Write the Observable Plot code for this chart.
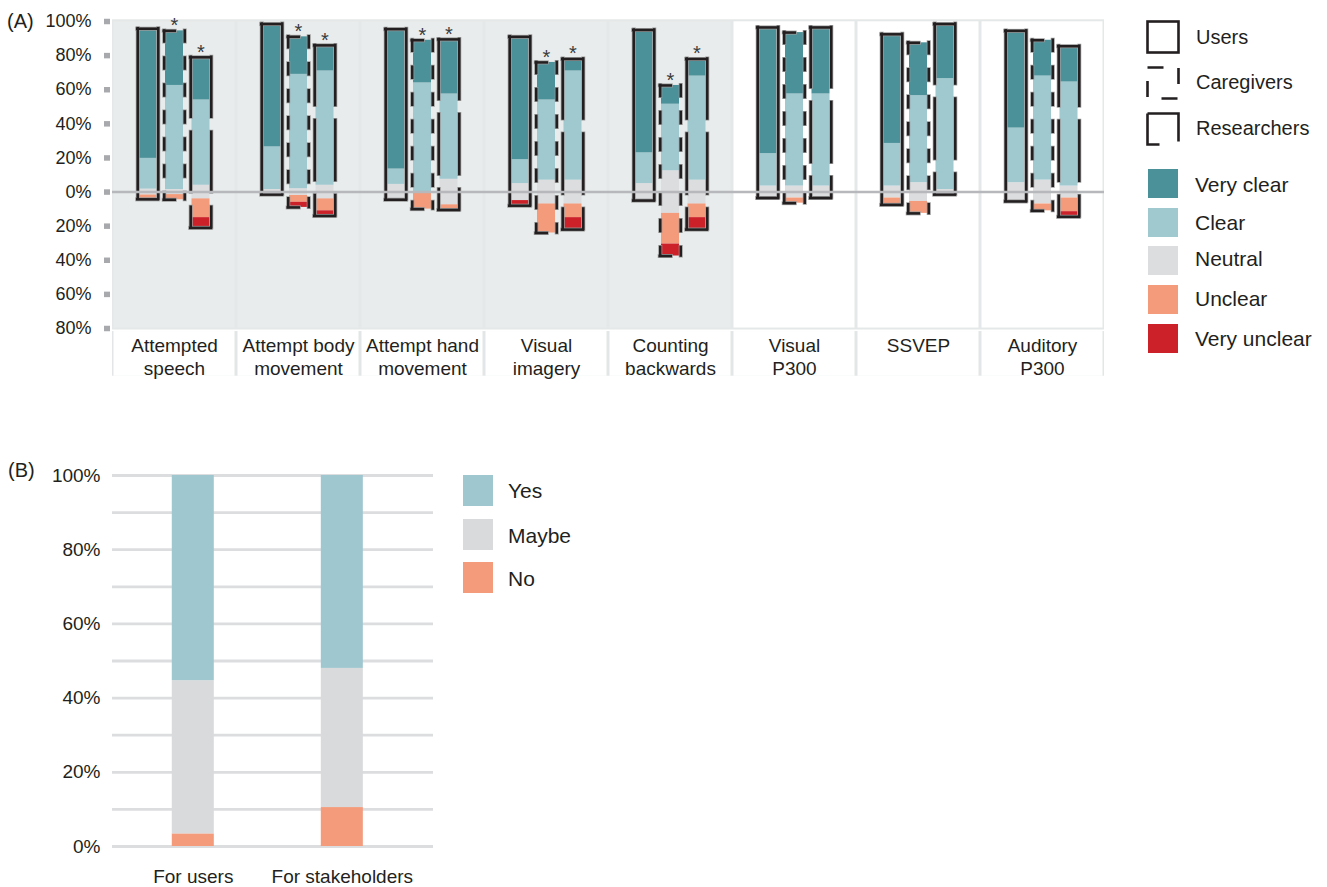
<!DOCTYPE html>
<html><head><meta charset="utf-8">
<script src="https://cdn.jsdelivr.net/npm/d3@7"></script>
<script src="https://cdn.jsdelivr.net/npm/@observablehq/plot@0.6"></script>
<style>
body{margin:0;background:#fff;font-family:"Liberation Sans",Arial,sans-serif;color:#231f20;}
#root{position:relative;width:1327px;height:887px;overflow:hidden;}
.abs{position:absolute;}
.lbl{position:absolute;white-space:nowrap;transform:translateY(-50%);line-height:1;}
svg{overflow:visible;}
</style></head><body><div id="root"></div>
<script>
// ---------- Panel A data ----------
const groups = ["Attempted speech","Attempt body movement","Attempt hand movement","Visual imagery","Counting backwards","Visual P300","SSVEP","Auditory P300"];
const groupLabels = ["Attempted\nspeech","Attempt body\nmovement","Attempt hand\nmovement","Visual\nimagery","Counting\nbackwards","Visual\nP300","SSVEP","Auditory\nP300"];
const shadedGroups = ["Attempted speech","Attempt body movement","Attempt hand movement","Visual imagery","Counting backwards"];
const respondents = ["Users","Caregivers","Researchers"];
const categories = ["Very clear","Clear","Neutral","Unclear","Very unclear"];
const categoryColors = ["#4b9199","#9fc8cf","#dcdddf","#f39b7b","#cd2129"];
// one value per group x respondent (Users, Caregivers, Researchers), in %
const veryClear   = [76,32,25, 72,22,15, 82,25,32, 72,22,7,  72,11,10, 74,36,39, 64,31,32, 57,21,21];
const clear       = [18,61,50, 25,67,67,  9,64,50, 14,47,64, 18,39,61, 19,54,54, 25,51,65, 32,61,61];
const neutral     = [3.5,3,8,  3,4,8,     9,0,15,  10,14,14, 10,25,14, 7,7,7,    7,11,3,   11,14,7];
const unclear     = [2.5,3,11, 0,4,7,     0,10,3,  0,17,8,   0,18,8,   0,3,0,    4,7,0,    0,4,8];
const veryUnclear = [0,0,6,    0,3,3,     0,0,0,   3,0,7,    0,7,7,    0,0,0,    0,0,0,    0,0,3];
const significant = [0,1,1, 0,1,1, 0,1,1, 0,1,1, 0,1,1, 0,0,0, 0,0,0, 0,0,0];
const yTicksA = [-80,-60,-40,-20,0,20,40,60,80,100];

// ---------- Panel B data ----------
const bTargets = ["For users","For stakeholders"];
const bAnswers = ["Yes","Maybe","No"];
const bColors = ["#9fc7cf","#d9dadc","#f39b7b"];
const bYes = [55.3, 52.0];
const bMaybe = [41.3, 37.5];
const bNo = [3.4, 10.5];
const yTicksB = [0,20,40,60,80,100];
const gridB = [0,10,20,30,40,50,60,70,80,90,100];

// ---------- build rows ----------
const segs = [], outlines = [];
groups.forEach((g, gi) => respondents.forEach((r, ri) => {
  const i = gi*3 + ri;
  const vc = veryClear[i], c = clear[i], n = neutral[i], u = unclear[i], vu = veryUnclear[i];
  const h = n/2;
  const parts = [
    ["Neutral", -h, h], ["Clear", h, h+c], ["Very clear", h+c, h+c+vc],
    ["Unclear", -h-u, -h], ["Very unclear", -h-u-vu, -h-u]
  ];
  for (const [cat, y1, y2] of parts) if (y2 > y1) segs.push({group:g, respondent:r, category:cat, y1, y2});
  outlines.push({group:g, respondent:r, lo:-h-u-vu, hi:h+c+vc, star: significant[i] === 1});
}));
const groupRows = groups.map(g => ({group:g, shaded: shadedGroups.includes(g)}));

const FONT = '"Liberation Sans", Arial, sans-serif';
const WA = 1106, MLA = 112, MRA = 2, PI = 0.226, PO = 0.953;
const facetW = (WA - MLA - MRA) / groups.length;
const bw = facetW / (respondents.length - PI + 2*PO) * (1 - PI);
const dashes = {Users: null, Caregivers: "11,16", Researchers: "60,15"};

function outlineMarks(r, color, width) {
  const d = outlines.filter(o => o.respondent === r);
  const common = {fx:"group", x:"respondent", stroke: color, strokeWidth: width, strokeLinecap: "square"};
  if (dashes[r]) common.strokeDasharray = dashes[r];
  return [
    Plot.tickY(d, {...common, y:"hi"}),
    Plot.tickY(d, {...common, y:"lo"}),
    Plot.ruleX(d, {...common, y1:"hi", y2:"lo", dx:-bw/2}),
    Plot.ruleX(d, {...common, y1:"hi", y2:"lo", dx: bw/2})
  ];
}

const plotA = Plot.plot({
  width: WA, height: 380, marginLeft: MLA, marginRight: MRA, marginTop: 21, marginBottom: 52,
  style: {fontFamily: FONT, fontSize: "18px", color: "#231f20", background: "transparent", overflow: "visible"},
  fx: {domain: groups, padding: 0, round: false, label: null},
  x: {domain: respondents, paddingInner: PI, paddingOuter: PO, round: false, axis: null},
  y: {domain: [-80, 100], label: null},
  color: {domain: categories, range: categoryColors},
  marks: [
    Plot.rect(groupRows, {fx:"group", y1:-80.9, y2:101, fill:"#e5e8e8"}),
    Plot.rect(groupRows.filter(d => d.shaded), {fx:"group", y1:-80.9, y2:101, fill:"#e9ecec", insetLeft:1.5, insetRight:1.5, insetTop:2, insetBottom:2}),
    Plot.rect(groupRows.filter(d => !d.shaded), {fx:"group", y1:-80.9, y2:101, fill:"#ffffff", insetLeft:1.5, insetRight:1.5, insetTop:2, insetBottom:2}),
    Plot.rect(groupRows, {fx:"group", y1:-81.8, y2:-108, fill:"#e3e6e6"}),
    Plot.rect(groupRows, {fx:"group", y1:-81.8, y2:-108, fill:"#ffffff", insetLeft:1.5, insetRight:1.5}),
    Plot.barY(segs, {fx:"group", x:"respondent", y1:"y1", y2:"y2", fill:"category", insetLeft:1.25, insetRight:1.25}),
    ...outlineMarks("Users", "#9a9a9a", 4), ...outlineMarks("Users", "#231f20", 2.5),
    ...outlineMarks("Caregivers", "#9a9a9a", 4), ...outlineMarks("Caregivers", "#231f20", 2.5),
    ...outlineMarks("Researchers", "#9a9a9a", 4), ...outlineMarks("Researchers", "#231f20", 2.5),
    Plot.text(outlines.filter(o => o.star), {fx:"group", x:"respondent", y:"hi", text: () => "*", fontSize: 20, lineAnchor:"middle", dy:-5, fill:"#3a3a3a"}),
    Plot.ruleY([0], {stroke:"#b6b8bb", strokeWidth:2.5}),
    Plot.axisY(yTicksA, {tickFormat: d => Math.abs(d) + "%", tickSize: 6, tickPadding: 13, dx: -2, stroke:"#a7a9ac", strokeWidth: 5.5, fontSize: 18, fill:"#231f20", label: null}),
    Plot.axisFx({anchor:"bottom", tickSize: 0, tickPadding: 6, fontSize: 19, lineHeight: 1.26, fill:"#231f20", label: null,
      tickFormat: g => groupLabels[groups.indexOf(g)]})
  ]
});

// ---------- Panel B ----------
const bRows = [];
bTargets.forEach((t, i) => {
  bRows.push({target:t, answer:"No", value:bNo[i]});
  bRows.push({target:t, answer:"Maybe", value:bMaybe[i]});
  bRows.push({target:t, answer:"Yes", value:bYes[i]});
});
const plotB = Plot.plot({
  width: 440, height: 447, marginLeft: 112, marginRight: 7, marginTop: 35, marginBottom: 41,
  style: {fontFamily: FONT, fontSize: "19px", color: "#231f20", background: "transparent", overflow: "visible"},
  x: {domain: bTargets, paddingInner: 0.718, paddingOuter: 0.436, align: 0.46, round: false, label: null},
  y: {domain: [0, 100], label: null},
  color: {domain: bAnswers, range: bColors},
  marks: [
    Plot.ruleY(gridB, {stroke:"#dcdddf", strokeWidth: 2.8}),
    Plot.barY(bRows, {x:"target", y:"value", fill:"answer"}),
    Plot.axisY(yTicksB, {tickFormat: d => d + "%", tickSize: 0, tickPadding: 12, fontSize: 19, fill:"#231f20", label: null}),
    Plot.axisX({tickSize: 0, tickPadding: 23, fontSize: 19, fill:"#231f20", label: null})
  ]
});

// ---------- layout ----------
const root = document.getElementById("root");
function place(el, left, top) { el.style.position = "absolute"; el.style.left = left + "px"; el.style.top = top + "px"; root.appendChild(el); return el; }
function label(text, left, cy, size) {
  const d = document.createElement("div"); d.className = "lbl"; d.textContent = text;
  d.style.left = left + "px"; d.style.top = cy + "px"; d.style.fontSize = size + "px"; root.appendChild(d); return d;
}
place(plotA, 0, 0);
place(plotB, 0, 440);
label("(A)", 7, 21, 20);
label("(B)", 8, 470, 20);

// legend A: respondent outlines
const ns = "http://www.w3.org/2000/svg";
const iconDash = {Users: null, Caregivers: "16,15.5", Researchers: "59,22,43,0"};
const iconTops = [19, 65, 111], iconText = [36.7, 81.7, 128.3];
respondents.forEach((r, i) => {
  const s = document.createElementNS(ns, "svg");
  s.setAttribute("width", 36); s.setAttribute("height", 36);
  const rc = document.createElementNS(ns, "rect");
  rc.setAttribute("x", 2.5); rc.setAttribute("y", 2.5); rc.setAttribute("width", 31); rc.setAttribute("height", 31);
  rc.setAttribute("fill", "none"); rc.setAttribute("stroke", "#231f20"); rc.setAttribute("stroke-width", 2.6);
  if (iconDash[r]) rc.setAttribute("stroke-dasharray", iconDash[r]);
  s.appendChild(rc);
  place(s, 1145, iconTops[i]);
  label(r, 1196, iconText[i], 20);
});
// legend A: categories
const swTops = [169, 207.5, 246, 284.5, 323.5], swText = [184.3, 222.3, 258.3, 297.7, 338.3];
categories.forEach((c, i) => {
  const d = document.createElement("div");
  d.style.width = "30px"; d.style.height = "29px"; d.style.background = categoryColors[i];
  place(d, 1148, swTops[i]);
  label(c, 1195, swText[i], 21);
});
// legend B
const bTops = [475, 519, 562], bText = [490, 535, 578];
bAnswers.forEach((a, i) => {
  const d = document.createElement("div");
  d.style.width = "30px"; d.style.height = "31px"; d.style.background = bColors[i];
  place(d, 463, bTops[i]);
  label(a, 508, bText[i], 21);
});
</script></body></html>
